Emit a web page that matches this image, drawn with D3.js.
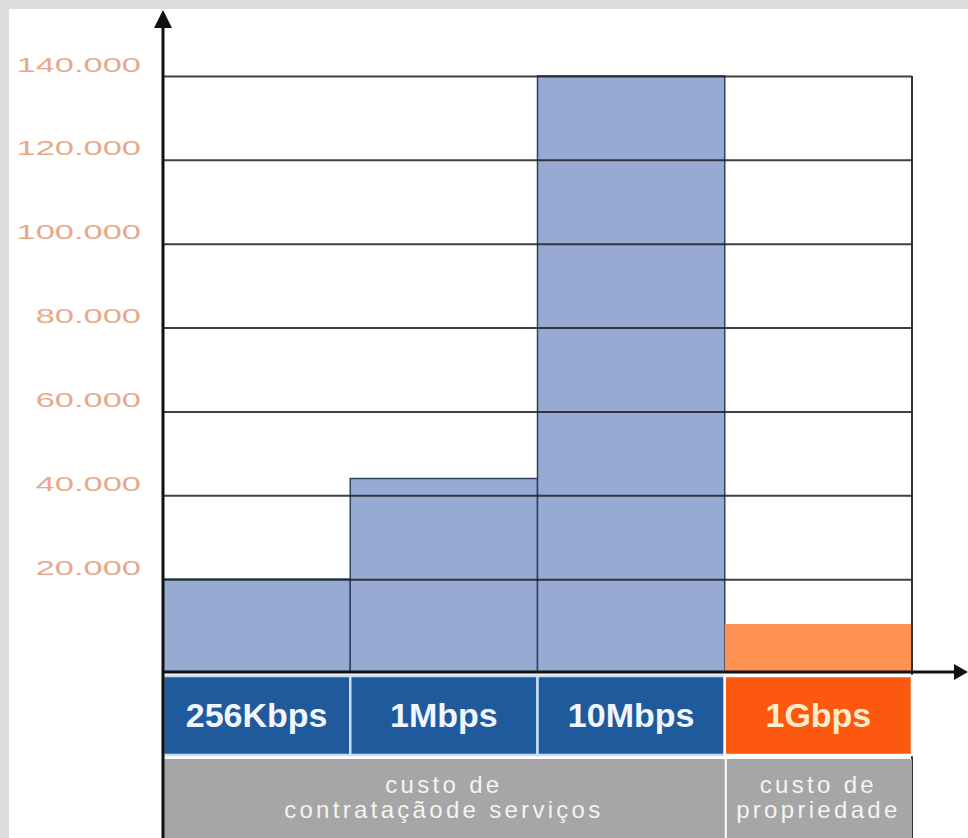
<!DOCTYPE html>
<html>
<head>
<meta charset="utf-8">
<script src="https://cdn.jsdelivr.net/npm/d3@7"></script>
<style>
  body { margin: 0; background: #dcdcdc; }
  svg  { display: block; }
</style>
</head>
<body>
<div id="graph"></div>
<script>
// The data...
var categories  = [ '256Kbps', '1Mbps', '10Mbps', '1Gbps' ];
var costs       = [ 20000, 44000, 140000, 9300 ];
var yTicks      = [ 20000, 40000, 60000, 80000, 100000, 120000, 140000 ];
var groupLines  = [ [ 'custo de', 'contrataçãode serviços' ], [ 'custo de', 'propriedade' ] ];
var groupStart  = [ 0, 3 ];
var groupEnd    = [ 2, 3 ];

var W = 968, H = 838;

var plot = { left: 163, right: 912, top: 76, zero: 663, base: 672 };

var barColours   = [ '#97abd2', '#97abd2', '#97abd2', '#ff9153' ];
var labelColours = [ '#1f5b9c', '#1f5b9c', '#1f5b9c', '#fd5810' ];
var textColours  = [ '#f2f6ff', '#f2f6ff', '#f2f6ff', '#ffeccc' ];

var ptBR = d3.formatLocale ({ decimal: ',', thousands: '.', grouping: [3], currency: ['', ''] });
var fmt  = ptBR.format (',d');

var svg = d3.select ('#graph').append ('svg')
            .attr ('width', W)
            .attr ('height', H);

// grey frame + white panel
svg.append ('rect').attr ('width', W).attr ('height', H).attr ('fill', '#dcdcdc');
svg.append ('rect').attr ('x', 9).attr ('y', 9).attr ('width', W - 9).attr ('height', H - 9).attr ('fill', '#ffffff');

var xScale = d3.scaleBand ()
               .domain (categories)
               .range ([ plot.left, plot.right ])
               .padding (0);

var yScale = d3.scaleLinear ()
               .domain ([ 0, 140000 ])
               .range ([ plot.zero, plot.top ]);

var bw = xScale.bandwidth ();

// bars
svg.selectAll ('rect.bar')
   .data (costs)
   .enter ()
   .append ('rect')
   .attr ('class', 'bar')
   .attr ('x',      function (d, i) { return xScale (categories[i]); })
   .attr ('y',      function (d)    { return yScale (d); })
   .attr ('width',  bw)
   .attr ('height', function (d)    { return plot.base - yScale (d); })
   .attr ('fill',   function (d, i) { return barColours[i]; })
   .attr ('stroke', function (d, i) { return i < 3 ? '#2f4068' : 'none'; })
   .attr ('stroke-width', 1.5);

// grid lines
var grid = svg.append ('g')
              .attr ('transform', 'translate(' + plot.left + ',0)')
              .call (d3.axisRight (yScale)
                       .tickValues (yTicks)
                       .tickSize (plot.right - plot.left)
                       .tickFormat (''));
grid.select ('.domain').remove ();
grid.selectAll ('line')
    .attr ('stroke', '#1e1e1e')
    .attr ('stroke-opacity', 0.85)
    .attr ('stroke-width', 2);

// right frame line
svg.append ('line')
   .attr ('x1', plot.right).attr ('x2', plot.right)
   .attr ('y1', yScale (140000)).attr ('y2', H)
   .attr ('stroke', '#333').attr ('stroke-width', 2);

// y labels
var yAxis = svg.append ('g')
               .attr ('transform', 'translate(' + plot.left + ',0)')
               .call (d3.axisLeft (yScale)
                        .tickValues (yTicks)
                        .tickSize (0)
                        .tickPadding (22)
                        .tickFormat (fmt));
yAxis.select ('.domain').remove ();
yAxis.selectAll ('text')
     .attr ('dy', 0)
     .attr ('y', -5)
     .attr ('font-family', 'Liberation Sans, Arial, sans-serif')
     .attr ('font-size', 21)
     .attr ('fill', '#e6a98a')
     .each (function () {
         var len = this.getComputedTextLength ();
         d3.select (this)
           .attr ('textLength', len * 1.64)
           .attr ('lengthAdjust', 'spacingAndGlyphs');
     });

// category boxes
var boxTop = 676, boxBot = 755, greyTop = 759;

svg.selectAll ('rect.cat')
   .data (categories)
   .enter ()
   .append ('rect')
   .attr ('class', 'cat')
   .attr ('x', function (d) { return xScale (d); })
   .attr ('y', boxTop)
   .attr ('width', bw)
   .attr ('height', boxBot - boxTop)
   .attr ('fill', function (d, i) { return labelColours[i]; })
   .attr ('stroke', function (d, i) { return i < 3 ? '#c9def2' : '#ffffff'; })
   .attr ('stroke-width', 2.5);

svg.selectAll ('text.cat')
   .data (categories)
   .enter ()
   .append ('text')
   .attr ('class', 'cat')
   .attr ('x', function (d) { return xScale (d) + bw / 2; })
   .attr ('y', 727)
   .attr ('text-anchor', 'middle')
   .attr ('font-family', 'Liberation Sans, Arial, sans-serif')
   .attr ('font-weight', 'bold')
   .attr ('font-size', 34)
   .attr ('fill', function (d, i) { return textColours[i]; })
   .text (function (d) { return d; });

// grey cost-type row
groupLines.forEach (function (lines, g) {
    var x0 = xScale (categories[groupStart[g]]);
    var x1 = xScale (categories[groupEnd[g]]) + bw;

    svg.append ('rect')
       .attr ('x', x0 + (g ? 2 : 0))
       .attr ('y', greyTop)
       .attr ('width', x1 - x0 - (g ? 2 : 0))
       .attr ('height', H - greyTop)
       .attr ('fill', '#a6a6a6');

    lines.forEach (function (t, k) {
        svg.append ('text')
           .attr ('x', (x0 + x1) / 2)
           .attr ('y', 793 + k * 25)
           .attr ('text-anchor', 'middle')
           .attr ('font-family', 'Liberation Sans, Arial, sans-serif')
           .attr ('font-size', 24)
           .attr ('letter-spacing', 3.3)
           .attr ('fill', '#f4f4f4')
           .text (t);
    });
});

// axes with arrows
svg.append ('line')
   .attr ('x1', plot.left).attr ('x2', plot.left)
   .attr ('y1', 24).attr ('y2', H)
   .attr ('stroke', '#111').attr ('stroke-width', 3);

svg.append ('path')
   .attr ('d', 'M' + plot.left + ',10 L' + (plot.left - 9) + ',28 L' + (plot.left + 9) + ',28 Z')
   .attr ('fill', '#111');

svg.append ('line')
   .attr ('x1', plot.left).attr ('x2', 958)
   .attr ('y1', plot.base).attr ('y2', plot.base)
   .attr ('stroke', '#111').attr ('stroke-width', 3);

svg.append ('path')
   .attr ('d', 'M968,' + plot.base + ' L954,' + (plot.base - 8) + ' L954,' + (plot.base + 8) + ' Z')
   .attr ('fill', '#111');
</script>
</body>
</html>
